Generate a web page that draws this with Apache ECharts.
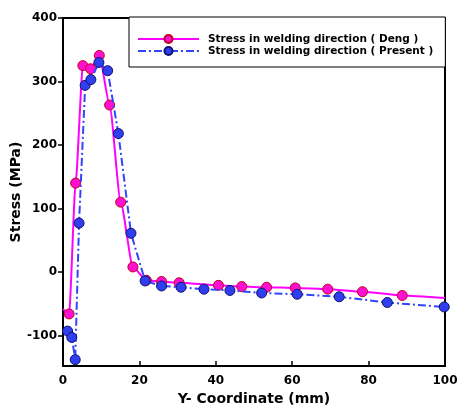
<!DOCTYPE html>
<html><head><meta charset="utf-8">
<script src="https://cdn.jsdelivr.net/npm/echarts@6/dist/echarts.min.js"></script>
<style>html,body{margin:0;padding:0;background:#fff}#c{width:458px;height:409px}</style>
</head><body><div id="c"></div>
<script>
var dengX = [0, 1.6, 3.3, 5.2, 7.2, 9.5, 12.2, 15.1, 18.3, 21.8, 25.8, 30.4, 40.7, 46.8, 53.3, 60.8, 69.3, 78.4, 88.8, 100];
var dengY = [-58, -66, 140, 325, 320, 341, 263, 110, 8, -13, -15, -17, -21, -23, -24, -25, -27, -31, -37, -41];
var presentX = [1.2, 2.3, 3.2, 4.2, 5.8, 7.3, 9.4, 11.7, 14.5, 17.8, 21.5, 25.8, 30.9, 36.9, 43.7, 52.0, 61.3, 72.3, 84.9, 99.8];
var presentY = [-93, -103, -138, 77, 294, 303, 330, 317, 218, 61, -14, -22, -24, -27, -29, -33, -35, -39, -48, -55];
var yTicks = [-100, 0, 100, 200, 300, 400];
var xTicks = [0, 20, 40, 60, 80, 100];
var seriesNames = ['Stress in welding direction ( Deng )', 'Stress in welding direction ( Present )'];

var dengData = dengX.map(function (x, i) {
  var item = { value: [x, dengY[i]] };
  if (i === 0 || i === dengX.length - 1) item.symbol = 'none';
  return item;
});
var presentData = presentX.map(function (x, i) { return [x, presentY[i]]; });

var font = 'DejaVu Sans, sans-serif';
var chart = echarts.init(document.getElementById('c'), null, { renderer: 'canvas' });
chart.setOption({
  animation: false,
  backgroundColor: '#fff',
  grid: { left: 63, right: 13, top: 18, bottom: 43, containLabel: false, outerBoundsMode: 'none', show: true, borderColor: '#000', borderWidth: 2 },
  legend: {
    left: 129, top: 17,
    orient: 'vertical',
    padding: [16, 12, 10, 8],
    itemGap: 0,
    itemWidth: 61, itemHeight: 10,
    borderColor: '#000', borderWidth: 1,
    backgroundColor: '#fff',
    data: seriesNames,
    textStyle: { fontFamily: font, fontWeight: 'bold', fontSize: 10.5, color: '#000', lineHeight: 12, padding: [0, 0, 0, 4] }
  },
  xAxis: {
    type: 'value', min: 0, max: 100, interval: 20,
    name: 'Y- Coordinate (mm)', nameLocation: 'middle', nameGap: 26, nameMoveOverlap: false,
    nameTextStyle: { fontFamily: font, fontWeight: 'bold', fontSize: 14, color: '#000' },
    axisLine: { show: true, onZero: false, lineStyle: { color: '#000', width: 2 } },
    axisTick: { show: true, inside: true, length: 5, lineStyle: { color: '#000', width: 1.5 } },
    axisLabel: { fontFamily: font, fontWeight: 'bold', fontSize: 12, color: '#000', margin: 9, customValues: xTicks },
    splitLine: { show: false }
  },
  yAxis: {
    type: 'value', min: -148, max: 400,
    name: 'Stress (MPa)', nameLocation: 'middle', nameGap: 40, nameRotate: 90, nameMoveOverlap: false,
    nameTextStyle: { fontFamily: font, fontWeight: 'bold', fontSize: 14, color: '#000' },
    axisLine: { show: true, onZero: false, lineStyle: { color: '#000', width: 2 } },
    axisTick: { show: true, inside: false, length: 5, lineStyle: { color: '#000', width: 1.5 }, customValues: yTicks },
    axisLabel: { fontFamily: font, fontWeight: 'bold', fontSize: 12, color: '#000', margin: 6, customValues: yTicks },
    splitLine: { show: false }
  },
  series: [
    {
      name: seriesNames[0], type: 'line', data: dengData,
      smooth: 0.2, smoothMonotone: 'x',
      symbol: 'circle', symbolSize: 10,
      lineStyle: { color: '#ff00ff', width: 2 },
      itemStyle: { color: '#ff10d0', borderColor: '#c00020', borderWidth: 1 },
      z: 2
    },
    {
      name: seriesNames[1], type: 'line', data: presentData,
      symbol: 'circle', symbolSize: 10,
      lineStyle: { color: '#3344ff', width: 2, type: [8, 3, 2, 3] },
      itemStyle: { color: '#2f3ff0', borderColor: '#101070', borderWidth: 1 },
      z: 3
    }
  ]
});
</script></body></html>
